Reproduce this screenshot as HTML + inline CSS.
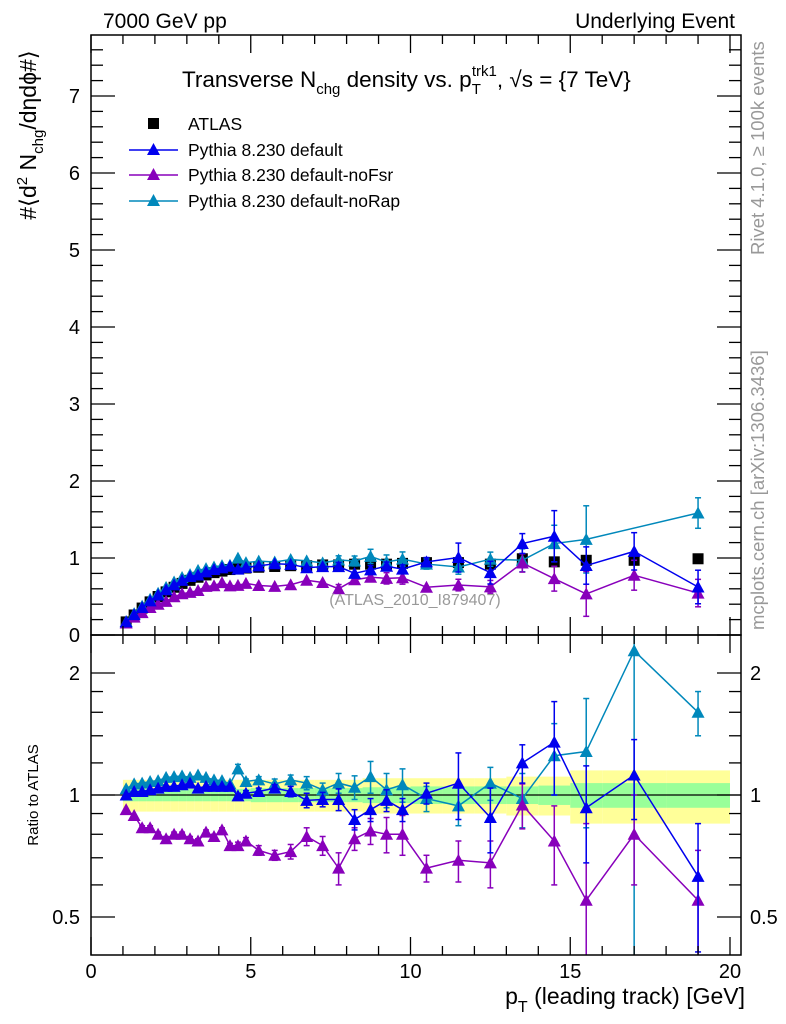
<!DOCTYPE html>
<html><head><meta charset="utf-8"><style>
body{margin:0;background:#fff;width:786px;height:1024px;overflow:hidden}
svg{display:block;font-family:"Liberation Sans",sans-serif}
</style></head><body>
<svg id="c" width="786" height="1024" viewBox="0 0 786 1024"></svg>
<script>
const xs=[1.1,1.35,1.6,1.85,2.1,2.35,2.6,2.85,3.1,3.35,3.6,3.85,4.1,4.35,4.6,4.85,5.25,5.75,6.25,6.75,7.25,7.75,8.25,8.75,9.25,9.75,10.5,11.5,12.5,13.5,14.5,15.5,17,19];
const binLo=[1,1.25,1.5,1.75,2,2.25,2.5,2.75,3,3.25,3.5,3.75,4,4.25,4.5,4.75,5,5.5,6,6.5,7,7.5,8,8.5,9,9.5,10,11,12,13,14,15,16,18];
const binHi=[1.25,1.5,1.75,2,2.25,2.5,2.75,3,3.25,3.5,3.75,4,4.25,4.5,4.75,5,5.5,6,6.5,7,7.5,8,8.5,9,9.5,10,11,12,13,14,15,16,18,20];
const atlas=[0.17,0.26,0.35,0.43,0.50,0.56,0.62,0.67,0.71,0.75,0.78,0.81,0.83,0.85,0.86,0.87,0.88,0.89,0.90,0.90,0.91,0.91,0.92,0.92,0.92,0.93,0.94,0.94,0.92,0.99,0.95,0.97,0.97,0.99];
const atlasStat=[0.035,0.035,0.035,0.035,0.035,0.035,0.035,0.035,0.035,0.035,0.035,0.035,0.035,0.035,0.035,0.035,0.04,0.04,0.04,0.04,0.04,0.04,0.04,0.045,0.045,0.045,0.05,0.05,0.05,0.05,0.055,0.07,0.07,0.07];
const atlasTot=[0.09,0.09,0.09,0.09,0.09,0.09,0.09,0.09,0.09,0.09,0.09,0.09,0.09,0.09,0.09,0.09,0.09,0.09,0.09,0.09,0.09,0.09,0.09,0.1,0.1,0.1,0.1,0.1,0.1,0.11,0.11,0.15,0.15,0.15];
const rDef=[1.0,1.02,1.02,1.03,1.04,1.05,1.05,1.06,1.07,1.04,1.05,1.05,1.05,1.05,0.995,1.01,1.02,1.04,1.02,0.97,0.975,0.975,0.87,0.92,0.97,0.92,1.01,1.07,0.88,1.2,1.35,0.93,1.12,0.63];
const eDef=[0.01,0.01,0.01,0.01,0.01,0.01,0.01,0.01,0.01,0.01,0.01,0.01,0.01,0.01,0.015,0.015,0.02,0.02,0.03,0.04,0.04,0.06,0.05,0.06,0.06,0.06,0.06,0.2,0.16,0.13,0.35,0.25,0.25,0.22];
const rFsr=[0.92,0.89,0.83,0.83,0.80,0.78,0.80,0.80,0.78,0.77,0.81,0.79,0.82,0.75,0.75,0.77,0.73,0.71,0.725,0.79,0.75,0.66,0.78,0.815,0.80,0.80,0.66,0.69,0.68,0.945,0.77,0.55,0.80,0.55];
const eFsr=[0.01,0.01,0.01,0.01,0.01,0.01,0.01,0.01,0.01,0.01,0.01,0.01,0.01,0.01,0.015,0.015,0.02,0.02,0.03,0.04,0.04,0.06,0.05,0.06,0.08,0.09,0.05,0.08,0.09,0.12,0.17,0.3,0.2,0.18];
const rRap=[1.036,1.065,1.07,1.08,1.085,1.105,1.11,1.115,1.105,1.12,1.105,1.09,1.085,1.065,1.16,1.08,1.09,1.065,1.09,1.07,1.03,1.07,1.045,1.11,1.03,1.06,0.98,0.94,1.07,0.98,1.25,1.28,2.27,1.6];
const eRap=[0.01,0.01,0.01,0.01,0.01,0.01,0.01,0.01,0.01,0.01,0.01,0.01,0.01,0.01,0.03,0.015,0.02,0.03,0.03,0.04,0.04,0.06,0.07,0.1,0.1,0.1,0.07,0.1,0.1,0.15,0.25,0.45,1.9,0.2];
const rapMainShown=[1,1,1,1,1,1,1,1,1,1,1,1,1,1,1,1,1,1,1,1,1,1,1,1,1,1,1,1,1,1,1,1,0,1];
const allShown=xs.map(()=>1);
const mainTicks=[0,1,2,3,4,5,6,7];
const ratioTicks=[0.5,1,2];
const xTicks=[0,5,10,15,20];

const NS="http://www.w3.org/2000/svg",svg=document.getElementById('c');
const L=91,R=741,T=35,MB=635,RB=955;
const X=v=>L+v*31.95;
const YM=v=>635-v*77;
const YR=v=>795-122*Math.log2(v);
function el(t,a,p){const e=document.createElementNS(NS,t);for(const k in a)e.setAttribute(k,a[k]);(p||svg).appendChild(e);return e;}
function txt(s,a,p){const e=el('text',a,p);e.textContent=s;return e;}
function clipR(y){return Math.max(RB>y?y:RB,MB);}

const gb=el('g',{});


binLo.forEach((lo,i)=>{
  const a=el('rect',{x:X(lo),y:YR(1+atlasTot[i]),width:X(binHi[i])-X(lo),height:YR(1-atlasTot[i])-YR(1+atlasTot[i]),fill:'#ffff99'},gb);
  
  
});
binLo.forEach((lo,i)=>{
  const a=el('rect',{x:X(lo),y:YR(1+atlasStat[i]),width:X(binHi[i])-X(lo),height:YR(1-atlasStat[i])-YR(1+atlasStat[i]),fill:'#99ff99'},gb);
  
  
});
el('line',{x1:L,x2:R,y1:YR(1),y2:YR(1),stroke:'#000','stroke-width':1.3});

function tri(x,y,c,p){return el('polygon',{points:`${x-6.5},${y+5.5} ${x+6.5},${y+5.5} ${x},${y-6.5}`,fill:c},p);}
function series(name,r,e,c,shown){
  const g=el('g',{});
  
  
  const pm=xs.map((x,i)=>shown[i]?`${X(x)},${YM(atlas[i]*r[i])}`:null).filter(s=>s).join(' ');
  el('polyline',{points:pm,fill:'none',stroke:c,'stroke-width':1.5},g);
  const pr=xs.map((x,i)=>`${X(x)},${YR(r[i])}`).join(' ');
  el('polyline',{points:pr,fill:'none',stroke:c,'stroke-width':1.5},g);
  xs.forEach((x,i)=>{
    const cx=X(x);
    const m=atlas[i]*r[i],me=atlas[i]*e[i];
    if(shown[i]){
      if(me*77>4){el('line',{x1:cx,x2:cx,y1:YM(m-me),y2:YM(m+me),stroke:c,'stroke-width':1.5},g);
        [m-me,m+me].forEach(v=>el('line',{x1:cx-3,x2:cx+3,y1:YM(v),y2:YM(v),stroke:c,'stroke-width':1.5},g));}
      const t1=tri(cx,YM(m),c,g);
      
      
    }
    const lo=clipR(YR(Math.max(r[i]-e[i],0.3))),hi=clipR(YR(r[i]+e[i]));
    if(lo-hi>4){el('line',{x1:cx,x2:cx,y1:lo,y2:hi,stroke:c,'stroke-width':1.5},g);
      [lo,hi].forEach(v=>{if(v>MB+1&&v<RB-1)el('line',{x1:cx-3,x2:cx+3,y1:v,y2:v,stroke:c,'stroke-width':1.5},g);});}
    const t2=tri(cx,YR(r[i]),c,g);
    
    
  });
}
const ga=el('g',{});


xs.forEach((x,i)=>{
  const s=el('rect',{x:X(x)-5.5,y:YM(atlas[i])-5.5,width:11,height:11,fill:'#000'},ga);
  
  
});
series('pythia-default-noRap',rRap,eRap,'#0088bb',rapMainShown);
series('pythia-default-noFsr',rFsr,eFsr,'#8800bb',allShown);
series('pythia-default',rDef,eDef,'#0000ee',allShown);

[[T,MB],[MB,RB]].forEach(([a,b])=>el('rect',{x:L,y:a,width:R-L,height:b-a,fill:'none',stroke:'#000','stroke-width':1.5}));
for(let v=0;v<=20.3;v+=1){
  const big=v%5===0,len=big?18:9;
  [[MB,-1],[RB,-1],[T,1],[MB,1]].forEach(([y,d])=>el('line',{x1:X(v),x2:X(v),y1:y,y2:y+d*len,stroke:'#000','stroke-width':1.3}));
}
xTicks.forEach(v=>{const t=txt(v,{x:X(v),y:978,'font-size':20,'text-anchor':'middle'});
  
  });
for(let v=0;v<=7.8;v+=0.2){
  const vv=Math.round(v*10)/10,big=Math.abs(vv-Math.round(vv))<1e-6,len=big?24:12;
  el('line',{x1:L,x2:L+len,y1:YM(vv),y2:YM(vv),stroke:'#000','stroke-width':1.3});
  el('line',{x1:R,x2:R-len,y1:YM(vv),y2:YM(vv),stroke:'#000','stroke-width':1.3});
}
mainTicks.forEach(v=>{const t=txt(v,{x:80,y:YM(v)+7,'font-size':20,'text-anchor':'end'});
  
  });
[0.5,0.6,0.7,0.8,0.9,1,2,1.2,1.4,1.6,1.8].forEach(v=>{
  const big=ratioTicks.includes(v),len=big?24:12;
  el('line',{x1:L,x2:L+len,y1:YR(v),y2:YR(v),stroke:'#000','stroke-width':1.3});
  el('line',{x1:R,x2:R-len,y1:YR(v),y2:YR(v),stroke:'#000','stroke-width':1.3});
});
ratioTicks.forEach(v=>{
  const t=txt(v,{x:80,y:YR(v)+7,'font-size':20,'text-anchor':'end'});
  
  
  const t2=txt(v,{x:750,y:YR(v)+7,'font-size':20});
  
  
});
</script>
<script>
(function(){
const svg=document.getElementById('c');
svg.insertAdjacentHTML('beforeend',`
<text x="103" y="28" font-size="21">7000 GeV pp</text>
<text x="735" y="28" font-size="21" text-anchor="end">Underlying Event</text>
<text x="182" y="87" font-size="22.5">Transverse N<tspan font-size="15" dy="7">chg</tspan><tspan dy="-7"> density vs. p</tspan><tspan font-size="15" dy="7">T</tspan><tspan font-size="15" dx="-9" dy="-18">trk1</tspan><tspan dy="11">, √s = {7 TeV}</tspan></text>
<g font-size="17.5">
<rect x="148" y="118" width="11" height="11" fill="#000"/>
<text x="188" y="130">ATLAS</text>
<line x1="129" x2="178" y1="150" y2="150" stroke="#0000ee" stroke-width="1.5"/><polygon points="147,155 160,155 153.5,143" fill="#0000ee"/>
<text x="188" y="156">Pythia 8.230 default</text>
<line x1="129" x2="178" y1="175" y2="175" stroke="#8800bb" stroke-width="1.5"/><polygon points="147,180 160,180 153.5,168" fill="#8800bb"/>
<text x="188" y="181">Pythia 8.230 default-noFsr</text>
<line x1="129" x2="178" y1="201" y2="201" stroke="#0088bb" stroke-width="1.5"/><polygon points="147,206 160,206 153.5,194" fill="#0088bb"/>
<text x="188" y="207">Pythia 8.230 default-noRap</text>
</g>
<text x="415" y="605" font-size="16" fill="#999" text-anchor="middle">(ATLAS_2010_I879407)</text>
<text transform="translate(36,135) rotate(-90)" font-size="23" text-anchor="middle">#⟨d<tspan font-size="15" dy="-9">2</tspan><tspan dy="9"> N</tspan><tspan font-size="15" dy="7">chg</tspan><tspan dy="-7">/dηdϕ#⟩</tspan></text>
<text transform="translate(38,795) rotate(-90)" font-size="15" text-anchor="middle">Ratio to ATLAS</text>
<text x="745" y="1004" font-size="23" text-anchor="end">p<tspan font-size="16" dy="8">T</tspan><tspan dy="-8"> (leading track) [GeV]</tspan></text>
<text transform="translate(764,255) rotate(-90)" font-size="18.5" fill="#999">Rivet 4.1.0, ≥ 100k events</text>
<text transform="translate(764,630) rotate(-90)" font-size="18.5" fill="#999">mcplots.cern.ch [arXiv:1306.3436]</text>
`);
})();
</script>
</body></html>
